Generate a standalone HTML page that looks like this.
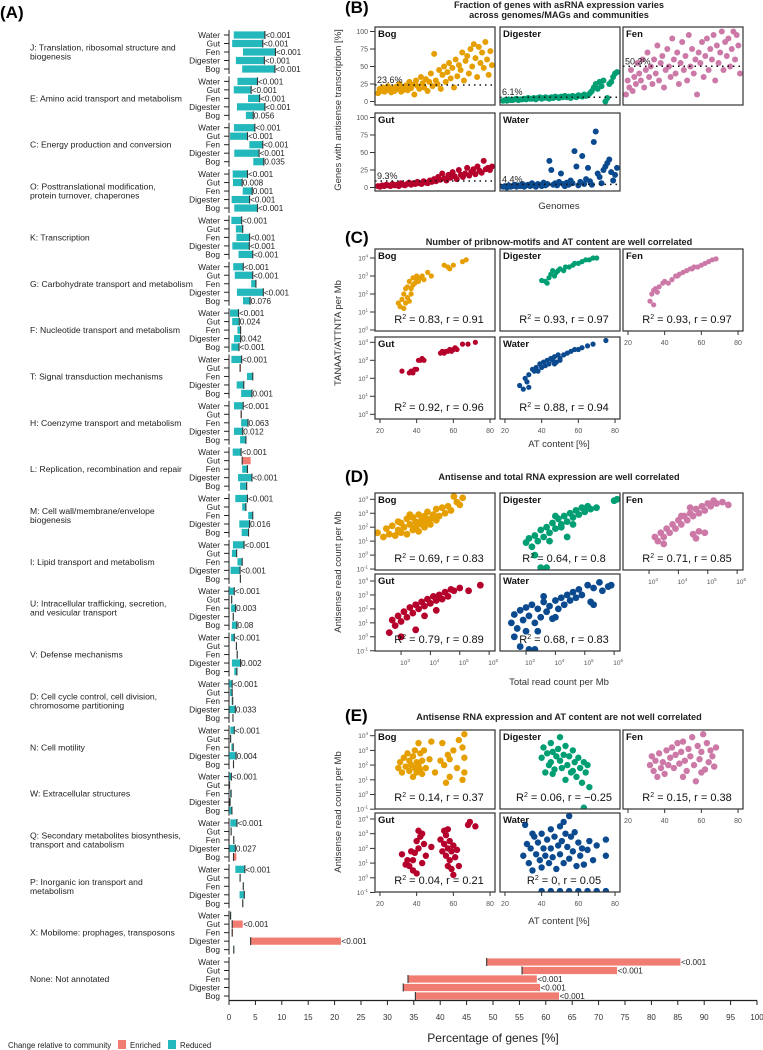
<!DOCTYPE html>
<html><head><meta charset="utf-8"><style>
html,body{margin:0;padding:0;background:#fff}
svg{display:block;font-family:"Liberation Sans",Arial,sans-serif}
</style></head><body>
<svg id="fig" width="763" height="1050" viewBox="0 0 763 1050" xmlns="http://www.w3.org/2000/svg"></svg>
<script>
// ---------- Panel A data ----------
const groupLabels = [["J: Translation, ribosomal structure and","biogenesis"],["E: Amino acid transport and metabolism"],["C: Energy production and conversion"],["O: Posttranslational modification,","protein turnover, chaperones"],["K: Transcription"],["G: Carbohydrate transport and metabolism"],["F: Nucleotide transport and metabolism"],["T: Signal transduction mechanisms"],["H: Coenzyme transport and metabolism"],["L: Replication, recombination and repair"],["M: Cell wall/membrane/envelope","biogenesis"],["I: Lipid transport and metabolism"],["U: Intracellular trafficking, secretion,","and vesicular transport"],["V: Defense mechanisms"],["D: Cell cycle control, cell division,","chromosome partitioning"],["N: Cell motility"],["W: Extracellular structures"],["Q: Secondary metabolites biosynthesis,","transport and catabolism"],["P: Inorganic ion transport and","metabolism"],["X: Mobilome: prophages, transposons"],["None: Not annotated"]];
const rowNames = ["Water","Gut","Fen","Digester","Bog"];
const communityPct = [[6.8,6.4,8.8,6.7,8.7],[5.4,4.2,5.8,6.8,4.6],[4.9,3.5,6.4,5.7,6.6],[3.5,2.5,4.4,3.9,5.4],[2.4,2.6,3.9,3.85,4.5],[2.7,4.5,5.1,6.5,4.0],[1.8,1.95,2.2,2.2,1.9],[2.4,2.1,4.5,2.8,4.35],[2.7,2.3,3.6,2.6,3.2],[2.3,2.5,3.5,4.35,3.35],[3.5,3.2,4.5,3.9,3.7],[2.85,1.45,2.5,2.1,2.15],[1.0,0.5,1.25,0.8,1.5],[1.0,1.4,1.55,2.2,1.5],[0.6,0.6,0.7,1.2,0.75],[1.0,0.3,0.8,1.35,0.85],[0.45,0.1,0.4,0.2,0.55],[1.5,0.4,0.9,1.2,0.85],[3.0,2.1,2.7,2.9,2.6],[0.3,0.6,0.6,4.1,0.9],[48.8,55.5,33.9,33.0,35.3]];
const antisensePct = [[0.9,0.6,2.65,1.3,2.5],[1.6,0.9,3.6,1.5,3.2],[0.95,0.2,3.85,1.0,4.6],[0.7,0.75,2.6,0.5,1.0],[0.45,1.3,1.4,0.63,1.8],[0.8,1.1,4.2,1.5,2.65],[0.2,0.6,1.6,0.95,0.45],[0.45,2.15,3.4,1.45,2.3],[0.95,2.35,2.3,0.95,2.1],[0.7,4.1,2.5,1.7,2.1],[1.2,2.5,3.65,1.95,2.4],[0.75,0.55,1.6,0.3,2.1],[0.05,0.45,0.4,0.75,0.55],[0.4,1.35,1.5,0.55,1.0],[0.05,0.2,0.5,0.1,0.7],[0.25,0.25,0.45,0.05,0.8],[0.05,0.05,0.2,0.15,0.05],[0.25,0.35,0.85,0.1,1.4],[1.2,2.05,2.65,2.0,2.55],[0.25,2.6,0.7,21.2,0.85],[85.5,73.5,58.3,58.9,62.5]];
const pLabels = [["<0.001","<0.001","<0.001","<0.001","<0.001"],["<0.001","<0.001","<0.001","<0.001","0.056"],["<0.001","<0.001","<0.001","<0.001","0.035"],["<0.001","0.008","0.001","<0.001","<0.001"],["<0.001","","<0.001","<0.001","<0.001"],["<0.001","<0.001","","<0.001","0.076"],["<0.001","0.024","","0.042","<0.001"],["<0.001","","","","0.001"],["<0.001","","0.063","0.012",""],["<0.001","","","<0.001",""],["<0.001","","","0.016",""],["<0.001","","","<0.001",""],["<0.001","","0.003","","0.08"],["<0.001","","","0.002",""],["<0.001","","","0.033",""],["<0.001","","","0.004",""],["<0.001","","","",""],["<0.001","","","0.027",""],["<0.001","","","",""],["","<0.001","","<0.001",""],["<0.001","<0.001","<0.001","<0.001","<0.001"]];
const xTicksA = [0,5,10,15,20,25,30,35,40,45,50,55,60,65,70,75,80,85,90,95,100];

// ---------- Panel B data ----------
const bBog = [12,18,15,20,14,17,22,16,13,19,15,21,18,25,14,20,17,23,16,28,19,24,10,30,22,18,35,26,20,32,15,28,40,22,68,30,25,45,18,38,50,28,42,55,33,48,20,60,36,52,45,70,30,58,65,40,75,50,82,62,35,78,55,70,48,85,60,38,72,52];
const bDigester = [1,2,1,3,2,2,3,4,2,3,3,4,3,5,4,4,5,3,5,6,4,5,6,5,4,6,5,7,6,5,7,6,8,6,7,5,8,7,6,9,8,7,10,8,9,12,15,20,25,18,28,22,30,0,5,25,28,35,40,42];
const bFen = [10,30,20,45,15,35,25,55,40,30,60,20,45,70,35,50,25,60,40,80,30,55,65,20,45,75,50,35,90,60,40,70,25,55,85,45,65,30,95,50,75,40,60,10,70,55,85,35,65,90,45,75,60,95,30,80,55,70,100,45,85,65,90,50,75,100,60,95,80,40];
const bGut = [2,1,3,2,4,3,2,5,3,4,2,6,4,3,5,7,4,6,5,8,6,5,9,7,6,10,8,12,9,15,11,20,13,10,18,14,22,16,12,25,18,15,20,28,17,22,26,19,30,24,21,38,26,28,25,30];
const bWater = [1,2,0,3,1,2,4,1,3,2,5,1,3,4,2,6,3,1,5,4,2,7,3,5,38,25,4,6,3,8,20,5,2,7,4,10,6,52,30,3,8,45,5,12,28,9,4,65,80,20,15,6,25,30,35,40,22,10,18,28];
const bMeans = [23.6,6.1,50.3,9.3,4.4];

// ---------- Panel C data ----------
const cBog = [[30,1.5],[31,1.3],[32,1.7],[33,1.2],[33,2.0],[34,1.5],[34,2.3],[35,1.8],[35,2.4],[36,2.7],[37,2.3],[38,2.5],[38,2.9],[39,2.6],[40,2.8],[40,3.0],[41,2.7],[42,2.9],[43,3.0],[44,2.8],[46,3.2],[48,3.0],[55,3.6],[57,3.5],[58,3.4],[60,3.6],[65,3.8],[67,3.9],[37,2.0],[36,1.6]];
const cDigester = [[40,2.75],[42,2.7],[44,2.9],[45,3.1],[46,3.3],[47,3.0],[48,3.2],[50,3.4],[52,3.3],[53,3.5],[55,3.5],[57,3.6],[58,3.7],[60,3.7],[62,3.8],[64,3.9],[66,3.9],[68,4.0],[70,4.0],[43,2.6],[49,3.3]];
const cFen = [[32,1.6],[34,1.4],[33,2.0],[34,2.2],[35,2.3],[37,2.4],[39,2.6],[40,2.7],[42,2.6],[44,2.8],[46,3.0],[48,3.1],[50,3.2],[52,3.3],[54,3.4],[56,3.5],[58,3.5],[60,3.6],[62,3.7],[64,3.8],[66,3.9],[68,3.95],[36,2.1],[47,3.0],[55,3.4]];
const cGut = [[32,2.4],[36,2.3],[37,2.4],[38,2.3],[39,2.5],[40,2.5],[41,3.0],[42,3.0],[43,3.1],[44,3.0],[53,3.4],[54,3.5],[55,3.4],[56,3.5],[57,3.5],[58,3.6],[59,3.5],[60,3.6],[61,3.7],[62,3.6],[65,3.9],[68,3.9],[72,4.0]];
const cWater = [[28,1.6],[30,1.4],[31,2.0],[32,1.8],[33,1.5],[33,2.2],[35,2.5],[36,2.4],[37,2.6],[38,2.4],[39,2.8],[40,2.6],[41,2.9],[42,2.7],[43,3.0],[44,2.8],[45,3.1],[46,3.0],[47,3.2],[48,2.9],[49,3.3],[50,3.1],[52,3.3],[54,3.4],[56,3.5],[58,3.6],[60,3.6],[62,3.7],[65,3.8],[68,3.9],[75,4.1],[47,2.8],[50,3.0]];
const cStats = ["0.83, r = 0.91","0.93, r = 0.97","0.93, r = 0.97","0.92, r = 0.96","0.88, r = 0.94"];

// ---------- Panel D data ----------
const dBog = [[2.2,1.6],[2.4,1.3],[2.5,1.9],[2.6,1.5],[2.7,2.1],[2.8,1.4],[2.9,1.8],[3.0,2.3],[3.0,1.6],[3.1,2.0],[3.2,2.6],[3.2,1.5],[3.3,2.2],[3.4,1.8],[3.4,2.7],[3.5,2.0],[3.5,2.4],[3.6,1.7],[3.6,2.9],[3.7,2.2],[3.7,2.5],[3.8,2.0],[3.8,2.8],[3.9,2.4],[3.9,3.1],[4.0,2.6],[4.0,2.2],[4.1,2.9],[4.2,2.5],[4.2,3.3],[4.3,2.8],[4.4,3.4],[4.5,3.0],[4.6,3.5],[4.7,3.2],[4.8,4.2],[4.9,3.8],[5.0,3.6],[5.1,4.1],[3.3,2.9],[2.9,2.4],[3.6,2.3]];
const dDigester = [[3.0,0.9],[3.1,1.2],[3.2,0.6],[3.3,1.4],[3.4,1.0],[3.5,1.8],[3.6,1.3],[3.7,2.0],[3.8,1.6],[3.9,2.3],[4.0,1.9],[4.1,2.6],[4.2,2.2],[4.3,2.8],[4.4,2.4],[4.5,3.0],[4.6,2.7],[4.7,3.2],[4.8,2.9],[4.9,3.4],[5.0,3.1],[5.1,3.5],[5.2,3.3],[5.4,3.4],[3.5,-0.9],[3.7,-0.9],[3.3,0.0],[4.0,2.8],[4.4,1.3],[6.0,3.9],[6.1,4.0],[3.8,1.0],[4.2,2.0],[4.6,2.2]];
const dFen = [[3.2,1.3],[3.3,1.0],[3.4,1.6],[3.5,1.3],[3.6,1.9],[3.7,1.6],[3.8,2.2],[3.9,1.9],[4.0,2.5],[4.1,2.2],[4.2,2.8],[4.3,2.5],[4.4,3.0],[4.5,2.8],[4.6,3.3],[4.7,3.0],[4.8,3.5],[4.9,3.2],[5.0,3.7],[5.1,3.5],[5.2,3.9],[5.3,3.7],[5.5,3.8],[5.7,3.6],[4.5,1.5],[4.7,1.7],[4.6,1.2],[4.9,1.6],[3.5,0.8],[4.1,2.8],[4.4,3.4]];
const dGut = [[2.6,0.3],[2.7,1.2],[2.8,0.8],[2.9,1.5],[3.0,1.1],[3.1,1.8],[3.2,1.4],[3.3,2.1],[3.4,1.7],[3.5,2.3],[3.6,2.0],[3.7,2.5],[3.8,2.2],[3.9,2.7],[4.0,2.4],[4.1,2.9],[4.2,2.6],[4.3,3.0],[4.4,2.7],[4.5,3.2],[4.6,2.9],[4.7,3.4],[4.8,3.3],[5.0,3.5],[5.3,3.3],[5.7,3.7],[3.5,0.5],[3.0,0.0],[3.8,1.5],[4.2,1.9]];
const dWater = [[2.5,1.0],[2.6,1.6],[2.7,0.6],[2.8,1.9],[2.9,1.2],[3.0,2.1],[3.0,0.4],[3.1,1.5],[3.2,2.3],[3.3,1.0],[3.4,2.0],[3.5,1.4],[3.6,2.5],[3.7,1.8],[3.8,2.2],[3.9,1.3],[4.0,2.6],[4.1,2.0],[4.2,2.8],[4.3,2.3],[4.4,3.0],[4.5,2.6],[4.6,3.2],[4.7,2.8],[4.8,3.4],[4.9,3.0],[5.1,3.7],[5.3,3.5],[5.5,3.9],[5.6,3.3],[5.8,3.6],[5.9,3.7],[5.2,2.5],[5.3,2.3],[2.8,-0.7],[3.1,-0.9],[3.3,-0.9],[3.6,2.9],[2.6,0.0],[3.4,0.4],[4.0,1.4]];
const dStats = ["0.69, r = 0.83","0.64, r = 0.8","0.71, r = 0.85","0.79, r = 0.89","0.68, r = 0.83"];

// ---------- Panel E data ----------
const eBog = [[30,1.8],[31,2.2],[32,1.5],[33,2.5],[34,1.9],[35,2.8],[36,1.6],[36,2.3],[37,2.0],[38,1.2],[38,2.6],[39,1.8],[39,3.0],[40,2.2],[40,1.5],[41,3.5],[41,2.0],[42,1.7],[42,2.8],[43,2.3],[43,1.4],[44,3.0],[45,1.8],[47,2.4],[48,3.6],[50,1.5],[53,2.3],[54,3.5],[55,2.0],[56,0.8],[57,2.7],[58,1.2],[58,2.4],[60,3.0],[62,1.8],[63,3.7],[65,3.2],[66,2.5],[66,4.1],[66,1.5],[65,1.0]];
const eDigester = [[40,2.5],[41,3.2],[42,1.5],[43,2.8],[44,2.0],[45,3.5],[45,2.2],[46,2.9],[47,1.7],[48,2.6],[49,3.1],[50,3.9],[50,2.3],[51,1.8],[52,2.7],[53,3.3],[54,2.0],[55,2.6],[56,1.5],[57,3.0],[58,2.2],[59,1.2],[60,2.5],[61,1.8],[62,0.8],[63,2.2],[64,1.5],[65,2.0],[66,0.5],[63,-0.9],[46,1.4],[53,1.0],[57,1.6]];
const eFen = [[32,2.0],[33,2.6],[34,1.6],[35,2.3],[36,1.2],[37,2.8],[38,1.8],[39,2.2],[40,1.4],[41,3.0],[42,2.0],[43,2.5],[44,3.2],[45,1.8],[46,2.7],[47,3.5],[48,2.1],[49,2.9],[50,3.6],[51,2.3],[52,1.6],[53,3.1],[54,2.6],[55,3.9],[56,2.0],[57,0.9],[58,3.3],[59,2.4],[60,2.9],[61,4.1],[62,1.7],[63,3.5],[64,2.2],[65,3.0],[66,2.6],[67,1.9],[68,3.2],[50,1.2],[60,1.5]];
const eGut = [[32,1.6],[34,0.9],[35,1.2],[36,0.8],[37,1.8],[38,0.5],[38,1.2],[39,1.7],[40,0.3],[40,2.5],[41,3.2],[41,2.0],[42,2.8],[43,3.0],[43,1.0],[44,2.3],[45,1.5],[48,2.1],[53,2.6],[54,1.8],[55,3.2],[55,2.3],[56,1.5],[56,2.9],[57,2.0],[57,3.3],[58,1.2],[58,2.5],[59,1.8],[59,0.6],[60,2.2],[60,0.2],[61,1.4],[62,1.9],[63,0.8],[68,3.6],[69,3.8],[72,3.5],[57,0.8]];
const eWater = [[30,1.5],[31,3.6],[32,2.3],[33,1.0],[34,2.0],[35,0.5],[36,2.8],[37,1.6],[38,2.4],[39,1.2],[40,3.0],[40,0.7],[41,2.0],[42,1.5],[43,2.6],[44,1.0],[45,3.3],[45,2.0],[46,1.4],[47,2.8],[48,0.6],[49,2.2],[50,3.5],[50,1.6],[51,2.5],[52,1.0],[53,3.0],[54,2.1],[55,4.2],[55,1.3],[56,2.8],[57,1.8],[58,3.1],[59,0.8],[60,2.4],[61,1.5],[62,2.0],[63,0.9],[65,1.9],[66,2.5],[68,1.2],[70,2.2],[75,2.6],[75,1.5],[40,-0.9],[45,-0.9],[50,-0.9],[55,-0.9],[60,-0.9],[65,-0.9],[70,-0.9],[75,-0.9],[35,3.0],[52,3.8]];
const eStats = ["0.14, r = 0.37","0.06, r = \u22120.25","0.15, r = 0.38","0.04, r = 0.21","0, r = 0.05"];

const communities = ["Bog","Digester","Fen","Gut","Water"];
const commColors = ["#E69F00","#009E73","#CC79A7","#B5002C","#0B4A8F"];
const atTicks = [20,40,60,80];
const logTicksD = [3,4,5,6];

const svg = document.getElementById('fig');
const NS = 'http://www.w3.org/2000/svg';
function mk(tag, attrs, parent, txt){
  const e = document.createElementNS(NS, tag);
  for (const k in attrs) e.setAttribute(k, attrs[k]);
  if (txt !== undefined) e.textContent = txt;
  (parent||svg).appendChild(e);
  return e;
}

// ================= PANEL A =================
const gA = mk('g',{});


const lblA = mk('text',{x:0,y:18,'font-size':17,'font-weight':'bold'},gA,'(A)');


const ax0 = 229, axScale = 5.28;
const xA = v => ax0 + v*axScale;
const rowY = (g,r) => 35 + g*46.35 + r*8.5;
const TEAL = '#22B8BC', SALMON = '#F07C72';
groupLabels.forEach((lines,g)=>{
  const cy = rowY(g,2);
  const gl = mk('text',{x:30,'font-size':8.6,fill:'#222'},gA);
  
  
  lines.forEach((ln,i)=>{
    const off = (i - (lines.length-1)/2)*9 + 3;
    mk('tspan',{x:30,y:cy+off},gl,ln);
  });
  const axl = mk('line',{x1:ax0,x2:ax0,y1:rowY(g,0)-5,y2:rowY(g,4)+5,stroke:'#222','stroke-width':1},gA);
  
  
  rowNames.forEach((rn,r)=>{
    const y = rowY(g,r);
    const t = mk('text',{x:220,y:y+3,'font-size':8.3,'text-anchor':'end',fill:'#222'},gA,rn);
    
    
    mk('line',{x1:ax0-5,x2:ax0,y1:y,y2:y,stroke:'#222','stroke-width':1},gA);
    const c = communityPct[g][r], a = antisensePct[g][r];
    const lo = Math.min(c,a), hi = Math.max(c,a);
    const bar = mk('rect',{x:xA(lo),y:y-3.6,width:Math.max(0.8,(hi-lo)*axScale),height:7.2,fill:a>c?SALMON:TEAL},gA);
    
    
    const cl = mk('line',{x1:xA(c),x2:xA(c),y1:y-4,y2:y+4,stroke:'#333','stroke-width':1.1},gA);
    
    
    if (pLabels[g][r]) {
      const pt = mk('text',{x:xA(hi)+0.5,y:y+3,'font-size':8.2,fill:'#222'},gA,pLabels[g][r]);
      
      
    }
  });
});
const xAxisA = mk('line',{x1:ax0,x2:xA(100),y1:1000.5,y2:1000.5,stroke:'#222','stroke-width':1.2},gA);


xTicksA.forEach(v=>{
  mk('line',{x1:xA(v),x2:xA(v),y1:1000.5,y2:1005,stroke:'#222','stroke-width':1},gA);
  const t = mk('text',{x:xA(v),y:1020,'font-size':8,'text-anchor':'middle',fill:'#333'},gA,v);
  
  
});
const xtA = mk('text',{x:493,y:1042,'font-size':12,'text-anchor':'middle',fill:'#222'},gA,'Percentage of genes [%]');


const leg = mk('g',{},gA);


mk('text',{x:8,y:1048,'font-size':7.8,fill:'#222'},leg,'Change relative to community');
const le1 = mk('rect',{x:118,y:1040,width:8,height:9,fill:SALMON},leg);


mk('text',{x:130,y:1048,'font-size':7.8,fill:'#222'},leg,'Enriched');
const le2 = mk('rect',{x:168,y:1040,width:8,height:9,fill:TEAL},leg);


mk('text',{x:180,y:1048,'font-size':7.8,fill:'#222'},leg,'Reduced');

// ================= facet helpers =================
const colX = [375,500,623], colW = 120;
function panelHeader(label, title, ly, titleLines){
  const l = mk('text',{x:345,y:ly,'font-size':17,'font-weight':'bold'},svg,label);
  
  
  titleLines.forEach((tl,i)=>{
    const t = mk('text',{x:559,y:title+i*10,'font-size':9.2,'font-weight':'bold','text-anchor':'middle',fill:'#222'},svg,tl);
    
    
  });
}
function frame(x,y,w,h,name,parent){
  const r = mk('rect',{x:x,y:y,width:w,height:h,fill:'none',stroke:'#333','stroke-width':1.2},parent);
  
  
  const t = mk('text',{x:x+3,y:y+10,'font-size':9.5,'font-weight':'bold',fill:'#111'},parent,name);
  
  
}
function powLabel(x,y,exp,parent){
  const t = mk('text',{x:x,y:y,'font-size':6.5,'text-anchor':'end',fill:'#555'},parent);
  
  
  mk('tspan',{},t,'10');
  mk('tspan',{dy:-3,'font-size':4.5},t,String(exp));
  return t;
}
function rLabel(cx,y,stat,parent){
  const t = mk('text',{x:cx,y:y,'font-size':11,'text-anchor':'middle',fill:'#111'},parent);
  
  
  mk('tspan',{},t,'R');
  mk('tspan',{dy:-4,'font-size':7},t,'2');
  mk('tspan',{dy:4},t,' = '+stat);
}
function facetPos(i){ return i<3 ? [colX[i],0] : [colX[i-3],1]; }

// ================= PANEL B =================
panelHeader('(B)',8,13,['Fraction of genes with asRNA expression varies','across genomes/MAGs and communities']);
const gB = mk('g',{});


const bSeries = [bBog,bDigester,bFen,bGut,bWater];
const bRowTop = [27,113], bH = 78;
const bY = (row,v) => bRowTop[row] + bH - 3.5 - v*(bH-8)/100;
bSeries.forEach((vals,i)=>{
  const [x0,row] = facetPos(i);
  const y0 = bRowTop[row];
  const fg = mk('g',{},gB);
  
  
  vals.forEach((v,k)=>{
    const px = x0 + 3 + k*(colW-6)/(vals.length-1);
    const c = mk('circle',{cx:px,cy:bY(row,v),r:3,fill:commColors[i]},fg);
    
    
  });
  const ml = mk('line',{x1:x0,x2:x0+colW,y1:bY(row,bMeans[i]),y2:bY(row,bMeans[i]),stroke:'#111','stroke-width':1.5,'stroke-dasharray':'1.5,4'},fg);
  
  
  const mt = mk('text',{x:x0+2,y:bY(row,bMeans[i])-2,'font-size':9,fill:'#222'},fg,bMeans[i]+'%');
  
  
  frame(x0,y0,colW,bH,communities[i],fg);
  if (x0===375){
    [0,25,50,75,100].forEach(v=>{
      mk('line',{x1:370,x2:375,y1:bY(row,v),y2:bY(row,v),stroke:'#333'},gB);
      const t = mk('text',{x:368,y:bY(row,v)+2.5,'font-size':7,'text-anchor':'end',fill:'#555'},gB,v);
      
      
    });
  }
});
const ybT = mk('text',{x:0,y:0,'font-size':9.5,'text-anchor':'middle',fill:'#333',transform:'translate(341,110) rotate(-90)'},gB,'Genes with antisense transcription [%]');


const xbT = mk('text',{x:559,y:209,'font-size':9.5,'text-anchor':'middle',fill:'#333'},gB,'Genomes');



// ================= generic log-scatter facet panel =================
function logPanel(opt){
  const g = mk('g',{});
  
  
  opt.series.forEach((pts,i)=>{
    const [x0,row] = facetPos(i);
    const y0 = opt.rowTop[row], h = opt.h;
    const xS = v => x0 + (v-opt.xmin)/(opt.xmax-opt.xmin)*colW;
    const yS = v => opt.yTop[row] + (opt.yTopVal - v)*opt.pxPerDec;
    const fg = mk('g',{},g);
    
    
    const cp = 'clip'+opt.name+i;
    const cl = mk('clipPath',{id:cp},fg);
    mk('rect',{x:x0,y:y0,width:colW,height:h},cl);
    const pg = mk('g',{'clip-path':'url(#'+cp+')'},fg);
    pts.forEach(p=>{
      const c = mk('circle',{cx:xS(p[0]),cy:yS(p[1]),r:opt.r,fill:commColors[i]},pg);
      
      
    });
    rLabel(x0+colW/2+4,y0+h-opt.rOff,opt.stats[i],fg);
    frame(x0,y0,colW,h,communities[i],fg);
    if (x0===375){
      opt.yTicks.forEach(v=>{
        mk('line',{x1:370,x2:375,y1:yS(v),y2:yS(v),stroke:'#333'},g);
        powLabel(368,yS(v)+2.5,v,g);
      });
    }
    if (row===1 || i===2){
      const ya = y0+h+4;
      opt.xTicks.forEach(v=>{
        mk('line',{x1:xS(v),x2:xS(v),y1:ya-4,y2:ya,stroke:'#333'},g);
        let t;
        if (opt.xLog) { t = powLabel(xS(v)+4,ya+10,v,g); t.setAttribute('text-anchor','middle'); }
        else { t = mk('text',{x:xS(v),y:ya+10,'font-size':7,'text-anchor':'middle',fill:'#555'},g,v);
          
           }
      });
    }
  });
  const yt = mk('text',{x:0,y:0,'font-size':9.5,'text-anchor':'middle',fill:'#333',transform:'translate(341,'+opt.yTitleY+') rotate(-90)'},g,opt.yTitle);
  
  
  const xt = mk('text',{x:559,y:opt.xTitleY,'font-size':9.5,'text-anchor':'middle',fill:'#333'},g,opt.xTitle);
  
  
}

panelHeader('(C)',245,243,['Number of pribnow-motifs and AT content are well correlated']);
logPanel({name:'panel-c-scatter',series:[cBog,cDigester,cFen,cGut,cWater],stats:cStats,r:2.6,
  rowTop:[249,337],h:82,yTop:[258,342.3],yTopVal:4,pxPerDec:18,xmin:17.3,xmax:82.7,
  yTicks:[0,1,2,3,4],xTicks:atTicks,xLog:false,rOff:8,
  yTitle:'TANAAT/ATTNTA per Mb',yTitleY:333,xTitle:'AT content [%]',xTitleY:447});

panelHeader('(D)',480,482,['Antisense and total RNA expression are well correlated']);
logPanel({name:'panel-d-scatter',series:[dBog,dDigester,dFen,dGut,dWater],stats:dStats,r:3.4,
  rowTop:[493,574],h:77,yTop:[499.3,581],yTopVal:4,pxPerDec:13.95,xmin:2.113,xmax:6.2,
  yTicks:[-1,0,1,2,3,4],xTicks:logTicksD,xLog:true,rOff:8,
  yTitle:'Antisense read count per Mb',yTitleY:572,xTitle:'Total read count per Mb',xTitleY:685});

panelHeader('(E)',720,721,['Antisense RNA expression and AT content are not well correlated']);
logPanel({name:'panel-e-scatter',series:[eBog,eDigester,eFen,eGut,eWater],stats:eStats,r:3.2,
  rowTop:[730,813],h:79,yTop:[735.7,819],yTopVal:4,pxPerDec:14.7,xmin:17.3,xmax:82.7,
  yTicks:[-1,0,1,2,3,4],xTicks:atTicks,xLog:false,rOff:8,
  yTitle:'Antisense read count per Mb',yTitleY:812,xTitle:'AT content [%]',xTitleY:924});
</script>
</body></html>
